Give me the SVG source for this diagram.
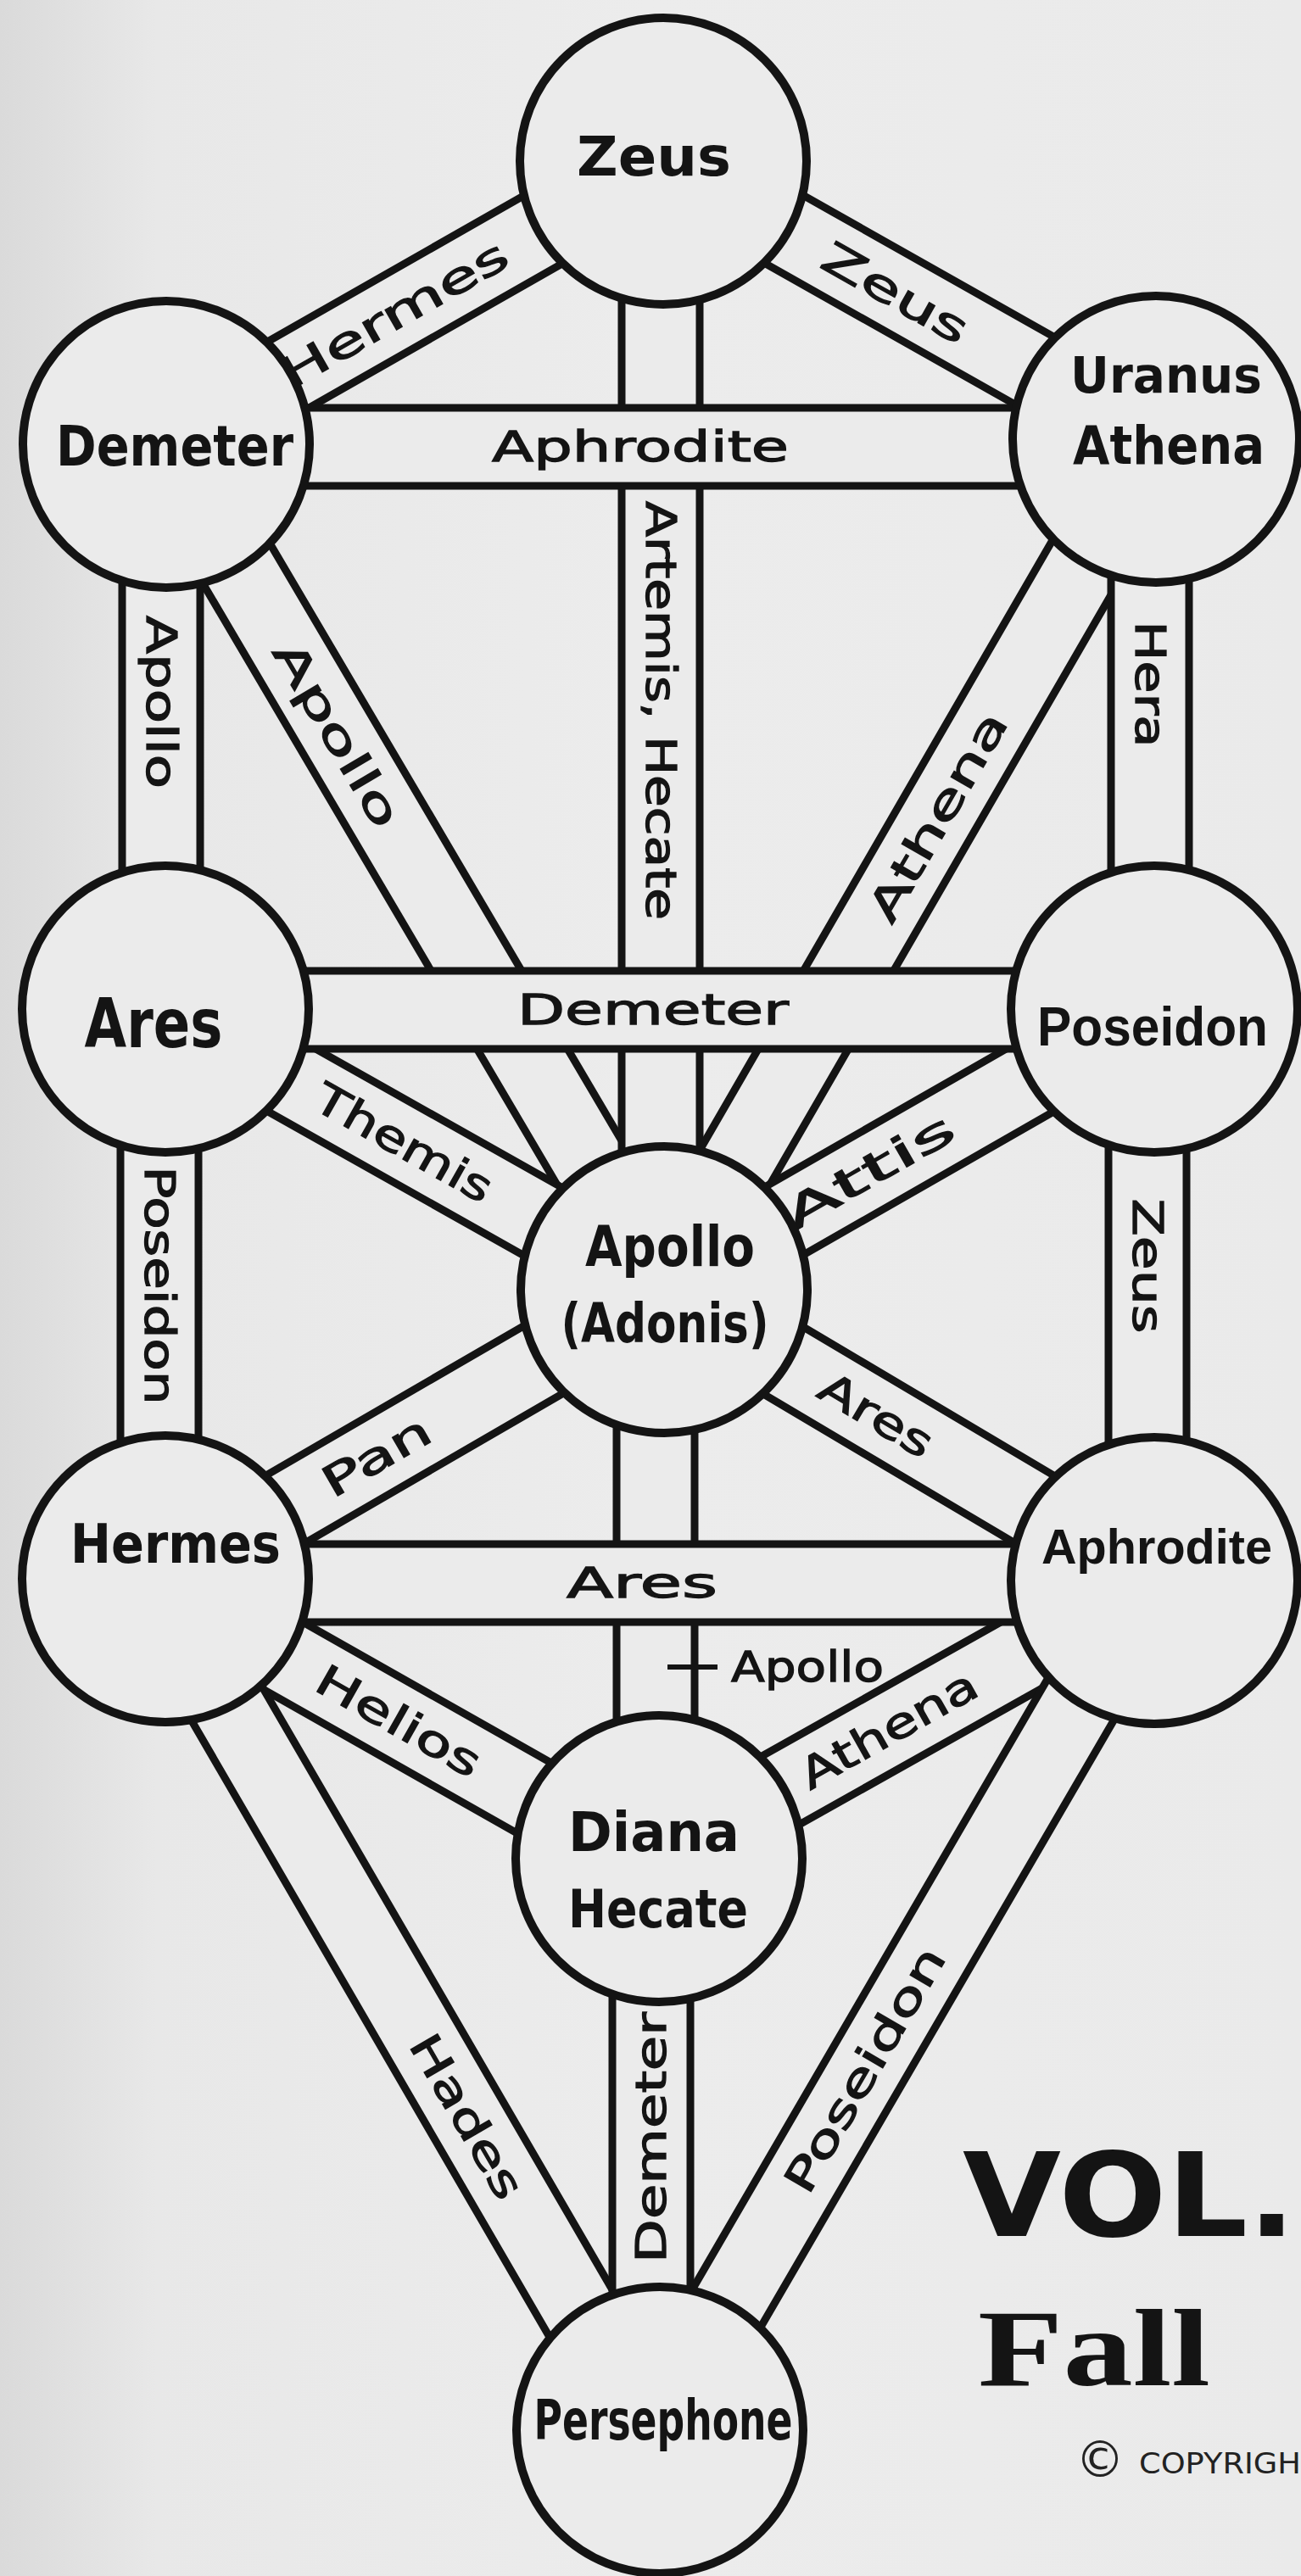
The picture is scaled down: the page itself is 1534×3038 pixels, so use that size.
<svg xmlns="http://www.w3.org/2000/svg" width="1534" height="3038" viewBox="0 0 1534 3038">
<style>
.ch{fill:#ebebeb;stroke:#141414;stroke-width:9}
.nc{fill:#ebebeb;stroke:#141414;stroke-width:10}
.nt{font-family:"DejaVu Sans","Liberation Sans",sans-serif;font-weight:bold;fill:#141414;text-anchor:middle}
.nn{font-family:"Liberation Sans","DejaVu Sans",sans-serif;font-weight:bold;fill:#141414;text-anchor:middle}
.lb{font-family:"DejaVu Sans","Liberation Sans",sans-serif;font-size:50px;fill:#141414;stroke:#141414;stroke-width:1.3;text-anchor:middle}
.ld{stroke:#141414;stroke-width:6;fill:none}
</style>
<defs>
  <linearGradient id="paper" x1="0" y1="0" x2="1" y2="0">
    <stop offset="0" stop-color="#dadada"/>
    <stop offset="0.12" stop-color="#e8e8e8"/>
    <stop offset="0.5" stop-color="#ececec"/>
    <stop offset="1" stop-color="#eaeaea"/>
  </linearGradient>
</defs>
<rect x="0" y="0" width="1534" height="3038" fill="url(#paper)"/>
<g id="connectors">
  <!-- diagonals -->
  <rect class="ch" x="0" y="-46" width="674.5" height="92" transform="translate(196,524) rotate(-29.68)"/>
  <rect class="ch" x="0" y="-46" width="667.2" height="92" transform="translate(782,190) rotate(29.45)"/>
  <rect class="ch" x="0" y="-46" width="1157" height="92" transform="translate(196,524) rotate(59.51)"/>
  <rect class="ch" x="0" y="-46" width="1158.6" height="92" transform="translate(783,1521) rotate(-59.96)"/>
  <rect class="ch" x="0" y="-46" width="674.8" height="92" transform="translate(195,1190) rotate(29.38)"/>
  <rect class="ch" x="0" y="-46" width="666.1" height="92" transform="translate(783,1521) rotate(-29.8)"/>
  <rect class="ch" x="0" y="-46" width="679.7" height="92" transform="translate(195,1862) rotate(-30.11)"/>
  <rect class="ch" x="0" y="-46" width="672.1" height="92" transform="translate(783,1521) rotate(30.68)"/>
  <rect class="ch" x="0" y="-46" width="669" height="92" transform="translate(195,1874) rotate(29.55)"/>
  <rect class="ch" x="0" y="-46" width="669.8" height="92" transform="translate(777,2192) rotate(-29.32)"/>
  <rect class="ch" x="0" y="-46" width="1161" height="92" transform="translate(182,1862) rotate(59.86)"/>
  <rect class="ch" x="0" y="-46" width="1159.3" height="92" transform="translate(773,2866) rotate(-59.81)"/>
  <!-- verticals -->
  <rect class="ch" x="733" y="190" width="92" height="1331"/>
  <rect class="ch" x="144" y="524" width="92" height="666"/>
  <rect class="ch" x="1310" y="518" width="92" height="672"/>
  <rect class="ch" x="142" y="1190" width="92" height="672"/>
  <rect class="ch" x="1307" y="1190" width="92" height="674"/>
  <rect class="ch" x="727" y="1521" width="92" height="671"/>
  <rect class="ch" x="722" y="2192" width="92" height="674"/>
  <!-- horizontals -->
  <rect class="ch" x="196" y="481" width="1167" height="92"/>
  <rect class="ch" x="195" y="1145" width="1166" height="92"/>
  <rect class="ch" x="195" y="1821" width="1166" height="92"/>
  <!-- labels -->
  <text class="lb" x="0" y="17" textLength="300" lengthAdjust="spacingAndGlyphs" transform="translate(465,371) rotate(-29.68)">Hermes</text>
  <text class="lb" x="0" y="18" textLength="190" lengthAdjust="spacingAndGlyphs" transform="translate(1056,345) rotate(29.45)">Zeus</text>
  <text class="lb" x="0" y="17" textLength="494" lengthAdjust="spacingAndGlyphs" transform="translate(779,838) rotate(90)">Artemis, Hecate</text>
  <text class="lb" x="755" y="544" textLength="350" lengthAdjust="spacingAndGlyphs">Aphrodite</text>
  <text class="lb" x="0" y="17" textLength="204" lengthAdjust="spacingAndGlyphs" transform="translate(190,828) rotate(90)">Apollo</text>
  <text class="lb" x="0" y="17" textLength="246" lengthAdjust="spacingAndGlyphs" transform="translate(397,866) rotate(59.51)">Apollo</text>
  <text class="lb" x="0" y="17" textLength="277" lengthAdjust="spacingAndGlyphs" transform="translate(1106,963) rotate(-59.96)">Athena</text>
  <text class="lb" x="0" y="17" textLength="149" lengthAdjust="spacingAndGlyphs" transform="translate(1356,807) rotate(90)">Hera</text>
  <text class="lb" x="770" y="1208" textLength="320" lengthAdjust="spacingAndGlyphs">Demeter</text>
  <text class="lb" x="0" y="17" textLength="232" lengthAdjust="spacingAndGlyphs" transform="translate(476,1348) rotate(29.38)">Themis</text>
  <text class="lb" x="0" y="17" textLength="224" lengthAdjust="spacingAndGlyphs" transform="translate(1025,1382) rotate(-29.8)">Attis</text>
  <text class="lb" x="0" y="17" textLength="281" lengthAdjust="spacingAndGlyphs" transform="translate(188,1516) rotate(90)">Poseidon</text>
  <text class="lb" x="0" y="17" textLength="159" lengthAdjust="spacingAndGlyphs" transform="translate(1353,1493) rotate(90)">Zeus</text>
  <text class="lb" x="0" y="17" textLength="140" lengthAdjust="spacingAndGlyphs" transform="translate(444,1718) rotate(-30.11)">Pan</text>
  <text class="lb" x="0" y="17" textLength="147" lengthAdjust="spacingAndGlyphs" transform="translate(1033,1669) rotate(30.68)">Ares</text>
  <line class="ld" x1="787" y1="1966" x2="846" y2="1966"/>
  <text class="lb" x="952" y="1983" textLength="180" lengthAdjust="spacingAndGlyphs">Apollo</text>
  <text class="lb" x="757" y="1884" textLength="178" lengthAdjust="spacingAndGlyphs">Ares</text>
  <text class="lb" x="0" y="17" textLength="215" lengthAdjust="spacingAndGlyphs" transform="translate(470,2030) rotate(29.55)">Helios</text>
  <text class="lb" x="0" y="17" textLength="232" lengthAdjust="spacingAndGlyphs" transform="translate(1048,2040) rotate(-29.32)">Athena</text>
  <text class="lb" x="0" y="17" textLength="216" lengthAdjust="spacingAndGlyphs" transform="translate(550,2496) rotate(59.86)">Hades</text>
  <text class="lb" x="0" y="17" textLength="296" lengthAdjust="spacingAndGlyphs" transform="translate(768,2521) rotate(-90)">Demeter</text>
  <text class="lb" x="0" y="17" textLength="326" lengthAdjust="spacingAndGlyphs" transform="translate(1020,2441) rotate(-59.81)">Poseidon</text>
</g>
<g id="node-zeus"><circle class="nc" cx="782" cy="190" r="169"/><text class="nt" x="771" y="207" font-size="64" textLength="182" lengthAdjust="spacingAndGlyphs">Zeus</text></g>
<g id="node-demeter"><circle class="nc" cx="196" cy="524" r="169"/><text class="nt" x="206" y="549" font-size="66" textLength="280" lengthAdjust="spacingAndGlyphs">Demeter</text></g>
<g id="node-uranus-athena"><circle class="nc" cx="1363" cy="518" r="169"/><text class="nt" x="1375" y="463" font-size="58" textLength="226" lengthAdjust="spacingAndGlyphs">Uranus</text><text class="nt" x="1378" y="547" font-size="62" textLength="226" lengthAdjust="spacingAndGlyphs">Athena</text></g>
<g id="node-ares"><circle class="nc" cx="195" cy="1190" r="169"/><text class="nt" x="181" y="1235" font-size="80" textLength="163" lengthAdjust="spacingAndGlyphs">Ares</text></g>
<g id="node-poseidon"><circle class="nc" cx="1361" cy="1190" r="169"/><text class="nn" x="1359" y="1233" font-size="64" textLength="272" lengthAdjust="spacingAndGlyphs">Poseidon</text></g>
<g id="node-apollo"><circle class="nc" cx="783" cy="1521" r="169"/><text class="nt" x="790" y="1493" font-size="66" textLength="200" lengthAdjust="spacingAndGlyphs">Apollo</text><text class="nt" x="784" y="1583" font-size="64" textLength="245" lengthAdjust="spacingAndGlyphs">(Adonis)</text></g>
<g id="node-hermes"><circle class="nc" cx="195" cy="1862" r="169"/><text class="nt" x="207" y="1843" font-size="64" textLength="248" lengthAdjust="spacingAndGlyphs">Hermes</text></g>
<g id="node-aphrodite"><circle class="nc" cx="1361" cy="1864" r="169"/><text class="nn" x="1364" y="1844" font-size="58" textLength="272" lengthAdjust="spacingAndGlyphs">Aphrodite</text></g>
<g id="node-diana-hecate"><circle class="nc" cx="777" cy="2192" r="169"/><text class="nt" x="771" y="2183" font-size="64" textLength="202" lengthAdjust="spacingAndGlyphs">Diana</text><text class="nt" x="776" y="2273" font-size="62" textLength="212" lengthAdjust="spacingAndGlyphs">Hecate</text></g>
<g id="node-persephone"><circle class="nc" cx="778" cy="2866" r="169"/><text class="nt" x="782" y="2877" font-size="66" textLength="305" lengthAdjust="spacingAndGlyphs">Persephone</text></g>
<g id="title">
  <text x="1135" y="2637" font-family="DejaVu Sans, Liberation Sans, sans-serif" font-weight="bold" font-size="137" fill="#141414" textLength="393" lengthAdjust="spacingAndGlyphs">VOL.</text>
  <text x="1153" y="2813" font-family="Liberation Serif, DejaVu Serif, serif" font-weight="bold" font-size="130" fill="#141414" textLength="274" lengthAdjust="spacingAndGlyphs">Fall</text>
  <text x="1268" y="2921" font-family="DejaVu Sans, Liberation Sans, sans-serif" fill="#222"><tspan font-size="58">© </tspan><tspan x="1343" y="2917" font-size="33" textLength="191" lengthAdjust="spacingAndGlyphs">COPYRIGH</tspan></text>
</g>
</svg>
